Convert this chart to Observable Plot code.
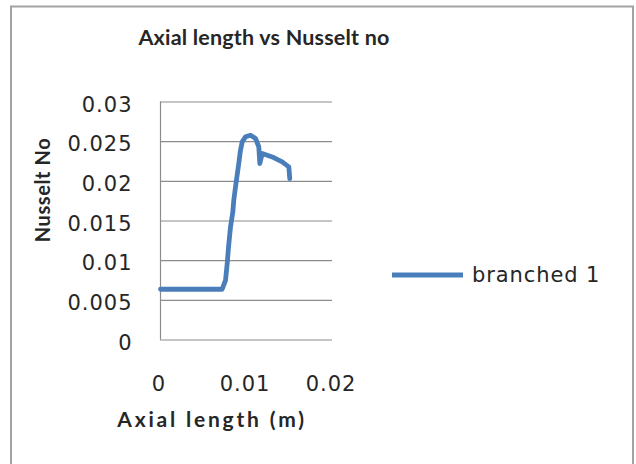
<!DOCTYPE html>
<html>
<head>
<meta charset="utf-8">
<script src="https://cdn.jsdelivr.net/npm/d3@7"></script>
<script src="https://cdn.jsdelivr.net/npm/@observablehq/plot@0.6"></script>
<style>
  html, body { margin: 0; padding: 0; background: #fff; }
  #chart { position: relative; width: 636px; height: 464px; overflow: hidden; }
</style>
</head>
<body>
<div id="chart"></div>
<script>
// Axial position along the tube (m) and the local Nusselt number
const axialLength = [0, 0.00717, 0.00756, 0.00776, 0.00791, 0.00814, 0.00841, 0.00852, 0.00872, 0.00910, 0.00930, 0.00950, 0.00988, 0.01047, 0.01105, 0.01143, 0.01155, 0.01183, 0.01299, 0.01415, 0.01492, 0.01503];
const nusseltNo   = [0.0064, 0.0064, 0.00751, 0.00966, 0.01172, 0.01424, 0.01614, 0.01761, 0.01929, 0.02225, 0.02393, 0.02497, 0.02561, 0.02582, 0.0254, 0.02434, 0.02225, 0.02351, 0.02308, 0.02245, 0.02182, 0.02035];

const yTicks = [0, 0.005, 0.01, 0.015, 0.02, 0.025, 0.03];
const yTickLabels = ["0", "0.005", "0.01", "0.015", "0.02", "0.025", "0.03"];
const xTicks = [0, 0.01, 0.02];
const xTickLabels = ["0", "0.01", "0.02"];

const seriesName = "branched 1";
const chartTitle = "Axial length vs Nusselt no";
const xTitle = "Axial length (m)";
const yTitle = "Nusselt No";

const lineColor = "#4a7ebb";
const gridColor = "#8c8c8c";
const textColor = "#262626";

const data = axialLength.map((x, i) => ({x, y: nusseltNo[i]}));

const plot = Plot.plot({
  width: 636,
  height: 464,
  marginLeft: 160,
  marginRight: 304,
  marginTop: 101.5,
  marginBottom: 124.5,
  style: {background: "#fff", fontFamily: "'DejaVu Sans', sans-serif", fontSize: "21px", color: textColor, overflow: "visible"},
  x: {domain: [0, 0.02], ticks: xTicks, label: null},
  y: {domain: [0, 0.03], ticks: yTicks, label: null},
  marks: [
    Plot.ruleY(yTicks, {stroke: gridColor, strokeWidth: 1.2}),
    Plot.ruleX([0], {stroke: gridColor, strokeWidth: 1.2}),
    Plot.line(data, {x: "x", y: "y", stroke: lineColor, strokeWidth: 4.8, strokeLinejoin: "round"}),
    Plot.axisY(yTicks, {tickSize: 0, tickPadding: 28, dy: 3, fill: textColor, label: null,
      tickFormat: d => yTickLabels[yTicks.indexOf(d)]}),
    Plot.axisX(xTicks, {tickSize: 0, tickPadding: 36, dx: -1.5, fill: textColor, label: null,
      tickFormat: d => xTickLabels[xTicks.indexOf(d)]})
  ]
});

document.getElementById("chart").appendChild(plot);

const svg = d3.select(plot);
svg.selectAll("g[aria-label='y-axis tick label'] text, g[aria-label='x-axis tick label'] text")
  .style("letter-spacing", "1px");

// Chart frame
svg.insert("rect", ":first-child")
  .attr("x", 11).attr("y", 6.5).attr("width", 622).attr("height", 520)
  .attr("fill", "#fff").attr("stroke", "#a3a3a3").attr("stroke-width", 2);

// Chart title
svg.append("text")
  .attr("x", 264).attr("y", 45)
  .attr("text-anchor", "middle")
  .style("font-family", "Lato, sans-serif").style("font-weight", "bold").style("font-size", "21.5px")
  .style("letter-spacing", "0.2px")
  .attr("fill", textColor)
  .text(chartTitle);

// Axis titles
svg.append("text")
  .attr("x", 212).attr("y", 427)
  .attr("text-anchor", "middle")
  .style("font-family", "Lato, sans-serif").style("font-weight", "bold").style("font-size", "21px")
  .style("letter-spacing", "2.8px")
  .attr("fill", textColor)
  .text(xTitle);

svg.append("text")
  .attr("transform", "translate(42,190) rotate(-90)")
  .attr("text-anchor", "middle").attr("dominant-baseline", "central")
  .style("font-family", "Lato, sans-serif").style("font-weight", "bold").style("font-size", "20px")
  .style("letter-spacing", "0.6px")
  .attr("fill", textColor)
  .text(yTitle);

// Legend
const legend = svg.append("g");
legend.append("line")
  .attr("x1", 392).attr("x2", 463).attr("y1", 275).attr("y2", 275)
  .attr("stroke", lineColor).attr("stroke-width", 4.8);
legend.append("text")
  .attr("x", 472).attr("y", 282)
  .attr("text-anchor", "start")
  .style("font-family", "'DejaVu Sans', sans-serif").style("font-size", "21px")
  .style("letter-spacing", "0.9px")
  .attr("fill", textColor)
  .text(seriesName);
</script>
</body>
</html>
